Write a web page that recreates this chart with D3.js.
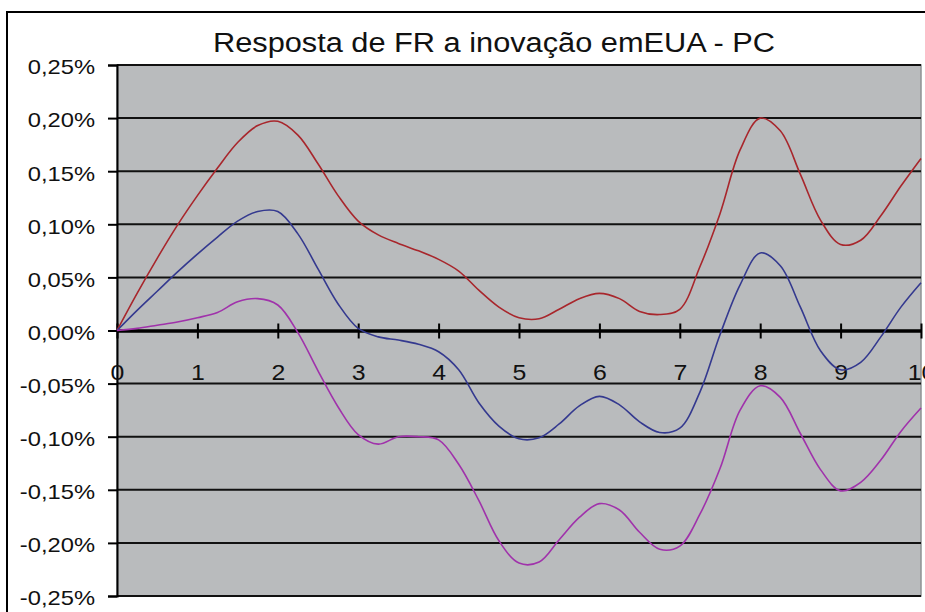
<!DOCTYPE html>
<html>
<head>
<meta charset="utf-8">
<script src="https://cdn.jsdelivr.net/npm/d3@7"></script>
<style>
  html, body { margin: 0; padding: 0; background: #fff; overflow: hidden; }
  svg { display: block; }
  text { font-family: "Liberation Sans", Arial, sans-serif; fill: #111; }
</style>
</head>
<body>
<svg id="chart" width="925" height="612"></svg>
<script>
// ---- data ----
const title = "Resposta de FR a inovação emEUA - PC";
const periods = [0,0.25,0.5,0.75,1,1.25,1.5,1.75,2,2.25,2.5,2.75,3,3.25,3.5,3.75,4,4.25,4.5,4.75,5,5.25,5.5,5.75,6,6.25,6.5,6.75,7,7.25,7.5,7.75,8,8.25,8.5,8.75,9,9.25,9.5,9.75,10];
const upper = [0,0.035,0.068,0.099,0.127,0.153,0.177,0.193,0.197,0.184,0.157,0.127,0.103,0.090,0.082,0.075,0.067,0.056,0.038,0.022,0.012,0.011,0.020,0.030,0.035,0.030,0.018,0.015,0.020,0.060,0.110,0.170,0.200,0.188,0.147,0.104,0.081,0.085,0.108,0.136,0.162];
const center = [0,0.019,0.037,0.055,0.072,0.088,0.103,0.112,0.112,0.091,0.058,0.025,0.002,-0.006,-0.009,-0.013,-0.020,-0.037,-0.068,-0.090,-0.102,-0.101,-0.088,-0.071,-0.062,-0.070,-0.086,-0.096,-0.092,-0.058,-0.004,0.043,0.073,0.061,0.022,-0.019,-0.037,-0.030,-0.006,0.022,0.045];
const lower = [0,0.002,0.005,0.008,0.012,0.017,0.027,0.030,0.024,-0.002,-0.038,-0.072,-0.098,-0.107,-0.100,-0.100,-0.103,-0.126,-0.160,-0.198,-0.219,-0.218,-0.197,-0.176,-0.163,-0.169,-0.190,-0.206,-0.203,-0.173,-0.130,-0.075,-0.052,-0.063,-0.097,-0.131,-0.151,-0.143,-0.122,-0.095,-0.073];
const yTicks = [0.25,0.20,0.15,0.10,0.05,0,-0.05,-0.10,-0.15,-0.20,-0.25];
const xTicks = [0,1,2,3,4,5,6,7,8,9,10];
const seriesColors = ["#a8262c", "#34398f", "#a032ab"];

// ---- layout ----
const svg = d3.select("#chart");
const L = 117, R = 921, T = 65, B = 596;
const x = d3.scaleLinear().domain([0, 10]).range([L, R]);
const y = d3.scaleLinear().domain([-0.25, 0.25]).range([B, T]);
const stretch = 1.13;

// outer chart border
svg.append("rect").attr("x", 7).attr("y", 12).attr("width", 1000).attr("height", 1000)
  .attr("fill", "#fff").attr("stroke", "#000").attr("stroke-width", 2);

// plot area
svg.append("rect").attr("x", L).attr("y", T).attr("width", R - L).attr("height", B - T)
  .attr("fill", "#b9bbbd").attr("stroke", "#8f9294").attr("stroke-width", 1.5);

// gridlines
svg.append("g").selectAll("line").data(yTicks.filter(d => d !== 0)).join("line")
  .attr("x1", L).attr("x2", R).attr("y1", d => y(d)).attr("y2", d => y(d))
  .attr("stroke", "#111").attr("stroke-width", 2);

// y axis
const yAxis = d3.axisLeft(y).tickValues(yTicks).tickSize(9).tickPadding(13)
  .tickFormat(d => d3.format(".2f")(d).replace(".", ",").replace("−", "-") + "%");
const gy = svg.append("g").attr("transform", `translate(${L},0)`).call(yAxis);
gy.select(".domain").attr("stroke", "#000").attr("stroke-width", 2);
gy.selectAll(".tick line").attr("stroke", "#000").attr("stroke-width", 2);
gy.selectAll(".tick text").attr("font-size", 21).attr("fill", "#111").attr("dy", "0.42em")
  .attr("font-family", "'Liberation Sans', Arial, sans-serif")
  .each(function() { const w = this.getComputedTextLength(); d3.select(this).attr("textLength", w * stretch).attr("lengthAdjust", "spacingAndGlyphs"); });

// x axis on zero line
const xAxis = d3.axisBottom(x).tickValues(xTicks).tickSize(0).tickFormat(d3.format("d"));
const gx = svg.append("g").attr("transform", `translate(0,${y(0)})`).call(xAxis);
gx.select(".domain").attr("stroke", "#000").attr("stroke-width", 3.5);
gx.selectAll(".tick").append("line").attr("y1", -7).attr("y2", 8).attr("stroke", "#000").attr("stroke-width", 2);
gx.selectAll(".tick text").attr("font-size", 22).attr("fill", "#111").attr("y", 49).attr("dy", 0)
  .attr("font-family", "'Liberation Sans', Arial, sans-serif")
  .each(function() { const w = this.getComputedTextLength(); d3.select(this).attr("textLength", w * stretch).attr("lengthAdjust", "spacingAndGlyphs"); });

// lines
const line = d3.line().x((d, i) => x(periods[i])).y(d => y(d)).curve(d3.curveCatmullRom.alpha(0.5));
[upper, center, lower].forEach((s, k) => {
  svg.append("path").datum(s).attr("d", line).attr("fill", "none")
    .attr("stroke", seriesColors[k]).attr("stroke-width", 1.6);
});

// title
const t = svg.append("text").attr("x", 494).attr("y", 52).attr("text-anchor", "middle")
  .attr("font-size", 27).attr("fill", "#111").text(title);
t.attr("textLength", 562).attr("lengthAdjust", "spacingAndGlyphs");
</script>
</body>
</html>
